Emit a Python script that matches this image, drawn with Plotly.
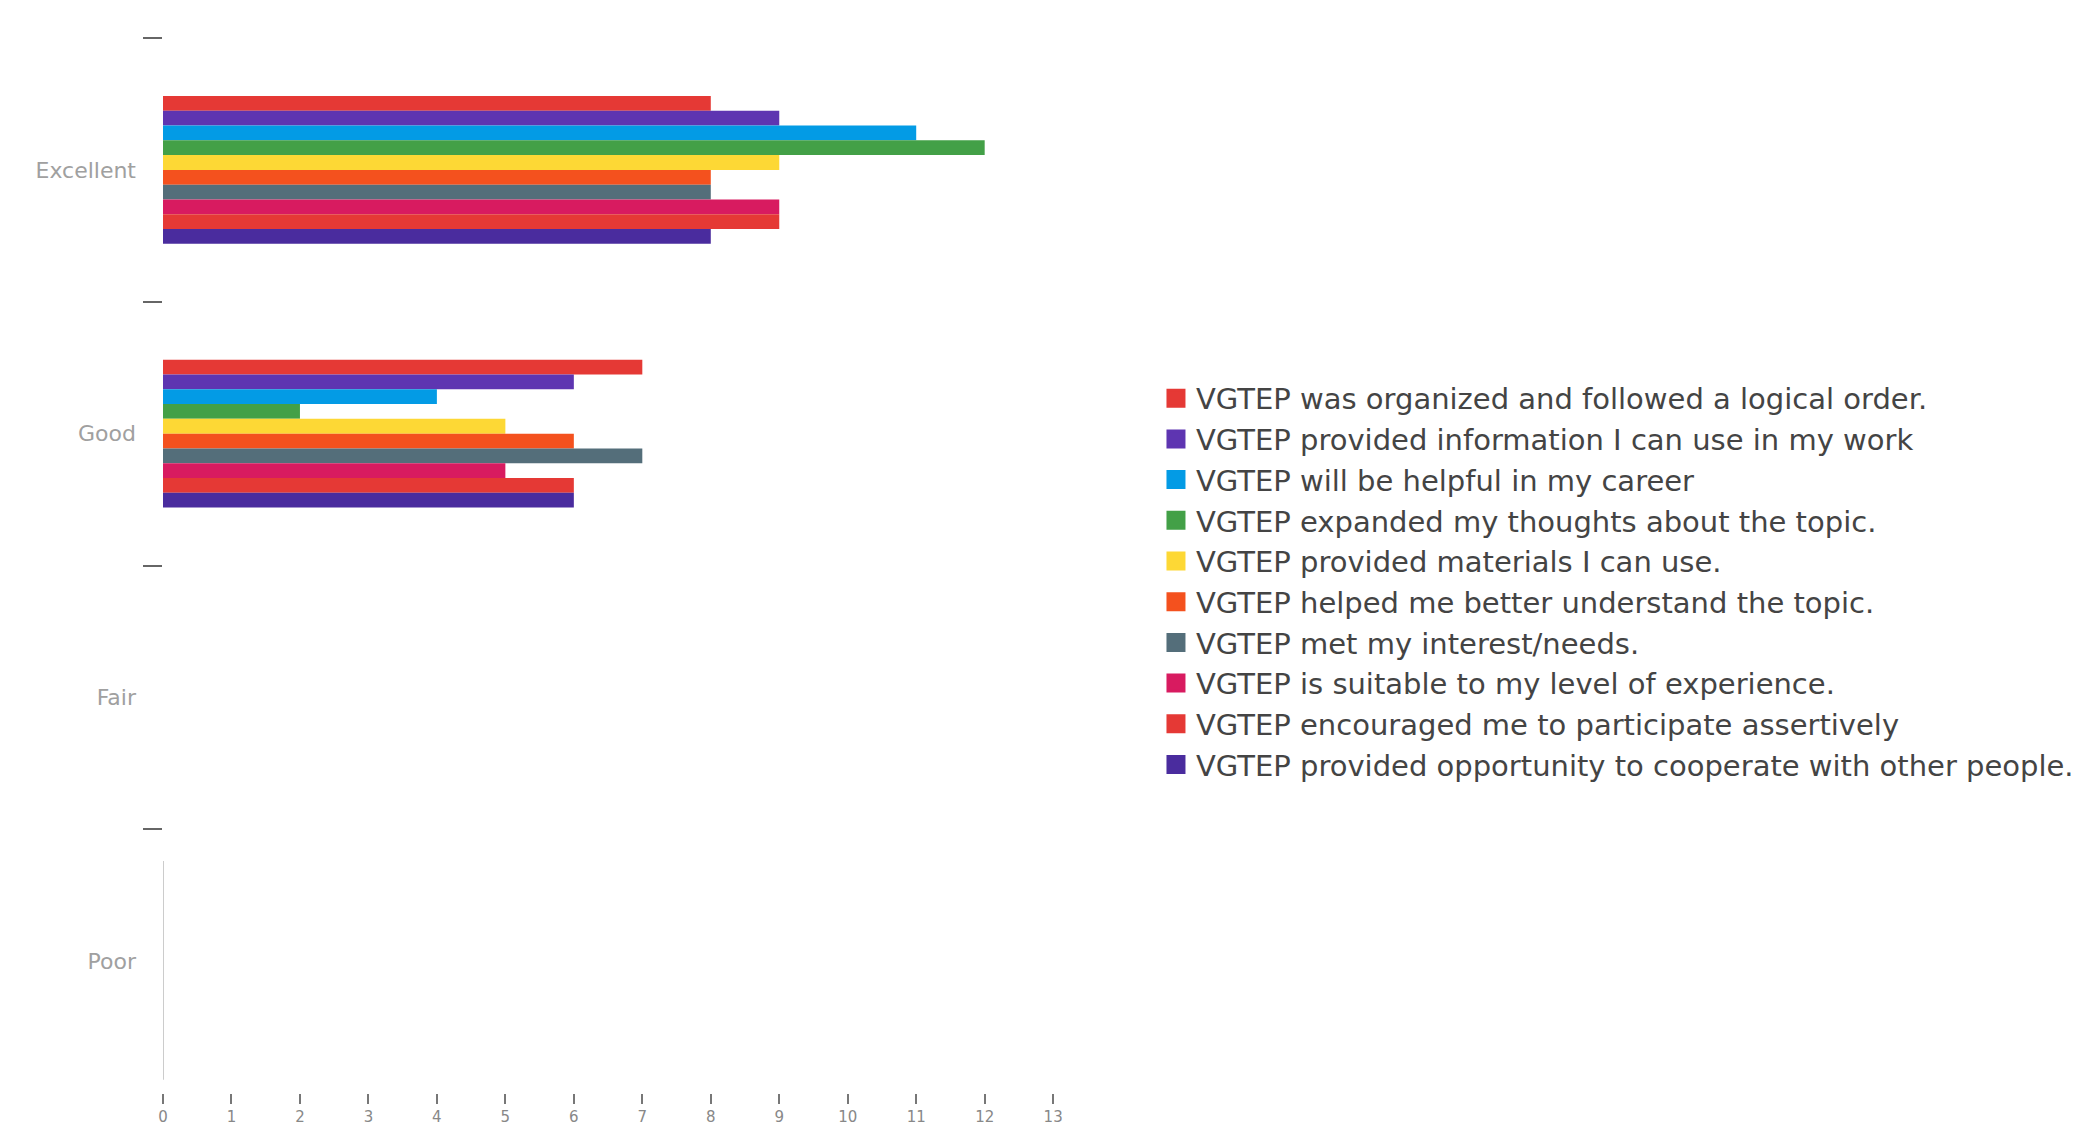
import plotly.graph_objects as go

# Rating scale shown on the vertical axis
ratings = ["Excellent", "Good", "Fair", "Poor"]

# Survey statements (one bar series each)
statements = [
    "VGTEP was organized and followed a logical order.",
    "VGTEP provided information I can use in my work",
    "VGTEP will be helpful in my career",
    "VGTEP expanded my thoughts about the topic.",
    "VGTEP provided materials I can use.",
    "VGTEP helped me better understand the topic.",
    "VGTEP met my interest/needs.",
    "VGTEP is suitable to my level of experience.",
    "VGTEP encouraged me to participate assertively",
    "VGTEP provided opportunity to cooperate with other people.",
]

# Number of responses per rating, one list per statement
organized = [8, 7, 0, 0]
information = [9, 6, 0, 0]
career = [11, 4, 0, 0]
expanded = [12, 2, 0, 0]
materials = [9, 5, 0, 0]
understand = [8, 6, 0, 0]
interest = [8, 7, 0, 0]
suitable = [9, 5, 0, 0]
encouraged = [9, 6, 0, 0]
cooperate = [8, 6, 0, 0]

series = [organized, information, career, expanded, materials,
          understand, interest, suitable, encouraged, cooperate]

colors = ["#E53935", "#5E35B1", "#039BE5", "#43A047", "#FDD835",
          "#F4511E", "#546E7A", "#D81B60", "#E53935", "#4A2C9E"]

x_ticks = list(range(0, 14))

fig = go.Figure()
for i, (name, values, color) in enumerate(zip(statements, series, colors)):
    fig.add_trace(go.Bar(
        y=ratings, x=values, name=name, orientation="h",
        marker=dict(color=color, line=dict(width=0)),
        legendgroup=f"s{i}", showlegend=False,
    ))

# Legend entries with larger square swatches
for i, (name, color) in enumerate(zip(statements, colors)):
    fig.add_trace(go.Scatter(
        x=[None], y=[None], mode="markers", name=name,
        legendgroup=f"s{i}", showlegend=True,
        marker=dict(symbol="square", size=16, color=color,
                    line=dict(color=color, width=3)),
    ))

# Partial vertical axis line next to the lowest rating
fig.add_shape(type="line", xref="x", yref="y", x0=0, x1=0, y0=2.62, y1=3.45,
              line=dict(color="#bbbbbb", width=1.5), layer="above")

fig.update_layout(
    width=2098, height=1134,
    paper_bgcolor="white", plot_bgcolor="white",
    margin=dict(l=163, r=1038, t=38, b=41, autoexpand=False),
    barmode="group", bargap=0.44, bargroupgap=0,
    font=dict(family="DejaVu Sans", color="#444444"),
    showlegend=True,
    legend=dict(
        x=1.107, xanchor="left", y=0.485, yanchor="middle",
        font=dict(family="DejaVu Sans", size=29, color="#444444"),
        traceorder="normal", bgcolor="rgba(0,0,0,0)",
        itemsizing="trace",
    ),
)

fig.update_yaxes(
    categoryorder="array", categoryarray=ratings, autorange="reversed",
    showgrid=False, zeroline=False, showline=False,
    ticks="outside", tickson="boundaries", ticklen=19, tickwidth=2,
    tickcolor="#666666", ticklabelstandoff=26,
    tickfont=dict(family="DejaVu Sans", size=22, color="#a0a0a0"),
)

fig.update_xaxes(
    range=[0, 13.1], tickvals=x_ticks, ticktext=[str(v) for v in x_ticks],
    showgrid=False, zeroline=False, showline=False,
    ticks="outside", ticklen=10, tickwidth=2, tickcolor="#777777",
    tickfont=dict(family="DejaVu Sans", size=15, color="#888888"),
)

fig.write_html("out.html")
